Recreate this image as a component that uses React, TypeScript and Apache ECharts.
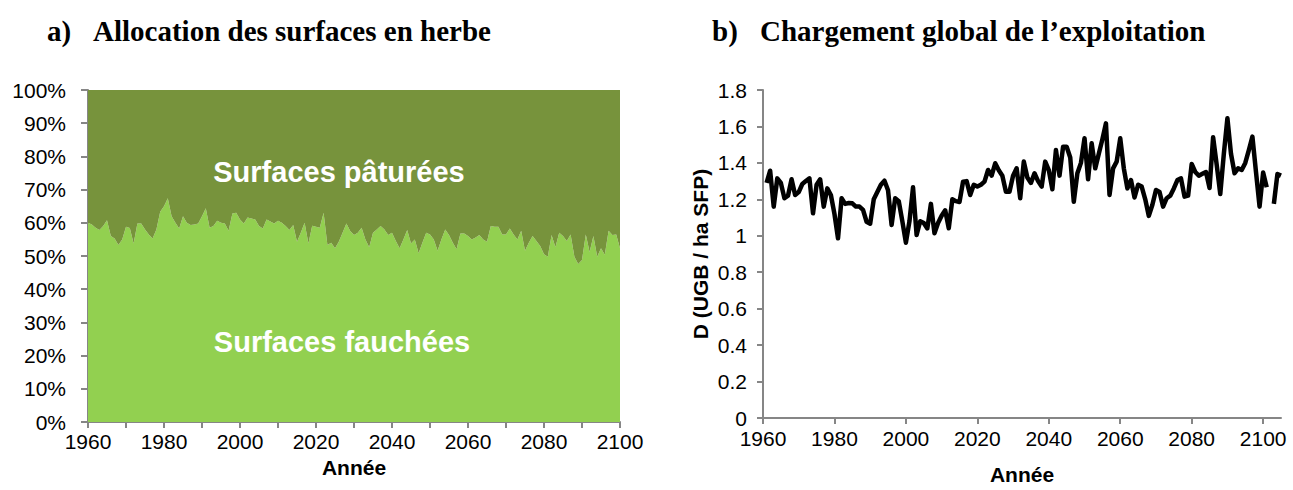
import React, { useEffect, useRef } from "react";
import * as echarts from "echarts";

// Left panel: share of grassland mown (%) per year, 1960-2100
const yearsA: string[] = Array.from({ length: 141 }, (_, i) => String(1960 + i));
const mownPct: number[] = [
  60, 59.5, 58.5, 57.8, 59, 60.8, 56, 55.3, 53.3, 55,
  58.8, 58.4, 53.8, 59.8, 59.8, 58, 56.5, 55.3, 58, 63.3,
  65, 67.4, 62, 60, 58.3, 62, 60, 59.3, 59.5, 59.8,
  62, 64.4, 58.5, 59, 60.6, 60, 59.8, 57.6, 62.8, 63,
  61, 59.8, 61.6, 61.3, 61, 59, 58.3, 61, 60.4, 59.8,
  60.6, 60, 59, 57.8, 59.3, 54.3, 57, 60, 53.8, 59.1,
  58.8, 58.5, 63, 53.3, 54, 52.3, 54.3, 57, 59.8, 57.5,
  56.3, 57, 58.5, 55, 52.6, 57, 58, 59, 58, 56.3,
  57, 54.5, 52.3, 55, 57.8, 53.8, 55, 50.8, 54, 57,
  56.5, 55, 51.6, 55, 58, 56.3, 54, 52, 56.8, 56.8,
  56, 55, 55.6, 56.3, 55, 54.3, 59, 58.8, 58.8, 56.5,
  56.5, 58.3, 56.5, 55, 57.6, 51.6, 54, 56, 54.5, 53,
  50.5, 49.8, 56.3, 52.6, 57, 56, 54.5, 56.5, 49.8, 47.6,
  48.8, 56.5, 51.2, 56, 49.8, 52.3, 50.4, 57.6, 56.3, 56.5,
  52.3,
];
const grazedPct: number[] = mownPct.map((v) => +(100 - v).toFixed(1));

// Right panel: stocking rate (UGB / ha SFP), 1961-2105
const yearsB: number[] = Array.from({ length: 145 }, (_, i) => 1961 + i);
const stocking: (number | null)[] = [
  1.29, 1.357, 1.16, 1.315, 1.29, 1.206, 1.22, 1.31, 1.224, 1.24,
  1.284, 1.3, 1.315, 1.123, 1.28, 1.31, 1.16, 1.26, 1.224, 1.12,
  0.986, 1.206, 1.175, 1.18, 1.178, 1.16, 1.16, 1.142, 1.077, 1.066,
  1.2, 1.24, 1.28, 1.302, 1.25, 1.059, 1.206, 1.19, 1.08, 0.962,
  1.08, 1.266, 1.004, 1.08, 1.07, 1.04, 1.175, 1.014, 1.07, 1.11,
  1.14, 1.041, 1.2, 1.19, 1.185, 1.297, 1.3, 1.224, 1.28, 1.27,
  1.28, 1.297, 1.361, 1.33, 1.398, 1.36, 1.33, 1.242, 1.242, 1.33,
  1.37, 1.206, 1.407, 1.32, 1.29, 1.343, 1.3, 1.27, 1.407, 1.36,
  1.255, 1.471, 1.33, 1.489, 1.489, 1.43, 1.187, 1.343, 1.4, 1.535,
  1.31, 1.508, 1.37, 1.45, 1.53, 1.617, 1.224, 1.37, 1.407, 1.535,
  1.37, 1.26, 1.306, 1.21, 1.28, 1.27, 1.2, 1.109, 1.17, 1.251,
  1.24, 1.16, 1.206, 1.22, 1.26, 1.306, 1.315, 1.215, 1.22, 1.394,
  1.35, 1.33, 1.34, 1.35, 1.262, 1.541, 1.39, 1.229, 1.45, 1.645,
  1.45, 1.343, 1.37, 1.361, 1.4, 1.47, 1.544, 1.35, 1.16, 1.347,
  1.266, null, 1.175, 1.339, 1.33,
];

const ticksB20: number[] = Array.from({ length: 8 }, (_, i) => 1960 + i * 20);

const titleA = ["a)", "Allocation des surfaces en herbe"];
const titleB = ["b)", "Chargement global de l\u2019exploitation"];
const labelGrazed = "Surfaces pâturées";
const labelMown = "Surfaces fauchées";

export default function App() {
  const ref = useRef<HTMLDivElement>(null);
  useEffect(() => {
    if (!ref.current) return;
    const chart = echarts.init(ref.current, undefined, { renderer: "svg" });
    const axisGray = "#868686";
    const sans = "Liberation Sans";
    const titleFont = "bold 29px 'Liberation Serif'";
    const tickFont = { fontFamily: sans, fontSize: 21, color: "#000" };
    const nameFont = { fontFamily: sans, fontWeight: "bold", fontSize: 21, color: "#000" };
    chart.setOption({
      animation: false,
      backgroundColor: "#ffffff",
      grid: [
        { left: 88, right: 673, top: 90, bottom: 68 },
        { left: 763, right: 12, top: 90, bottom: 72 },
      ],
      xAxis: [
        {
          type: "category",
          gridIndex: 0,
          data: yearsA,
          boundaryGap: false,
          name: "Année",
          nameLocation: "middle",
          nameGap: 35,
          nameTextStyle: nameFont,
          axisLine: { lineStyle: { color: axisGray, width: 2 } },
          axisTick: { interval: 9, length: 6, lineStyle: { color: axisGray, width: 2 } },
          axisLabel: { interval: 19, margin: 9, ...tickFont },
          splitLine: { show: false },
        },
        {
          type: "value",
          gridIndex: 1,
          min: 1960,
          max: 2105,
          interval: 20,
          name: "Année",
          nameLocation: "middle",
          nameGap: 46,
          nameTextStyle: nameFont,
          axisLine: { lineStyle: { color: axisGray, width: 2 } },
          axisTick: { customValues: ticksB20, length: 6, lineStyle: { color: axisGray, width: 2 } },
          axisLabel: {
            customValues: ticksB20,
            formatter: (v: number) => String(v),
            margin: 10,
            ...tickFont,
          },
          splitLine: { show: false },
        },
      ],
      yAxis: [
        {
          type: "value",
          gridIndex: 0,
          min: 0,
          max: 100,
          interval: 10,
          axisLine: { show: true, lineStyle: { color: axisGray, width: 2 } },
          axisTick: { show: true, length: 7, lineStyle: { color: axisGray, width: 2 } },
          axisLabel: { formatter: "{value}%", margin: 22, ...tickFont },
          splitLine: { show: false },
        },
        {
          type: "value",
          gridIndex: 1,
          min: 0,
          max: 1.8,
          interval: 0.2,
          name: "D (UGB / ha SFP)",
          nameLocation: "middle",
          nameGap: 52,
          nameRotate: 90,
          nameTextStyle: nameFont,
          axisLine: { show: true, lineStyle: { color: axisGray, width: 2 } },
          axisTick: { show: true, length: 6, lineStyle: { color: axisGray, width: 2 } },
          axisLabel: {
            formatter: (v: number) => String(+v.toFixed(1)),
            margin: 16,
            ...tickFont,
          },
          splitLine: { show: false },
        },
      ],
      series: [
        {
          name: labelMown,
          type: "line",
          xAxisIndex: 0,
          yAxisIndex: 0,
          stack: "herbe",
          symbol: "none",
          lineStyle: { width: 0 },
          areaStyle: { color: "#92D050", opacity: 1 },
          data: mownPct,
          z: 2,
        },
        {
          name: labelGrazed,
          type: "line",
          xAxisIndex: 0,
          yAxisIndex: 0,
          stack: "herbe",
          symbol: "none",
          lineStyle: { width: 0 },
          areaStyle: { color: "#77933C", opacity: 1 },
          data: grazedPct,
          z: 2,
        },
        {
          name: "Chargement",
          type: "line",
          xAxisIndex: 1,
          yAxisIndex: 1,
          symbol: "none",
          connectNulls: false,
          lineStyle: { color: "#000", width: 4.5, join: "round" },
          data: yearsB.map((y, i) => [y, stocking[i]]),
        },
      ],
      graphic: [
        { type: "text", x: 47, y: 31, style: { text: titleA[0], font: titleFont, fill: "#000", textVerticalAlign: "middle" } },
        { type: "text", x: 93, y: 31, style: { text: titleA[1], font: titleFont, fill: "#000", textVerticalAlign: "middle" } },
        { type: "text", x: 712, y: 31, style: { text: titleB[0], font: titleFont, fill: "#000", textVerticalAlign: "middle" } },
        { type: "text", x: 760, y: 31, style: { text: titleB[1], font: titleFont, fill: "#000", textVerticalAlign: "middle" } },
        {
          type: "text",
          x: 339,
          y: 172,
          style: { text: labelGrazed, fill: "#fff", font: "bold 29px 'Liberation Sans'", textAlign: "center", textVerticalAlign: "middle" },
          z: 10,
        },
        {
          type: "text",
          x: 342,
          y: 342,
          style: { text: labelMown, fill: "#fff", font: "bold 29px 'Liberation Sans'", textAlign: "center", textVerticalAlign: "middle" },
          z: 10,
        },
      ],
    });
    return () => chart.dispose();
  }, []);
  return <div ref={ref} style={{ width: 1293, height: 490, position: "absolute", left: 0, top: 0 }} />;
}
